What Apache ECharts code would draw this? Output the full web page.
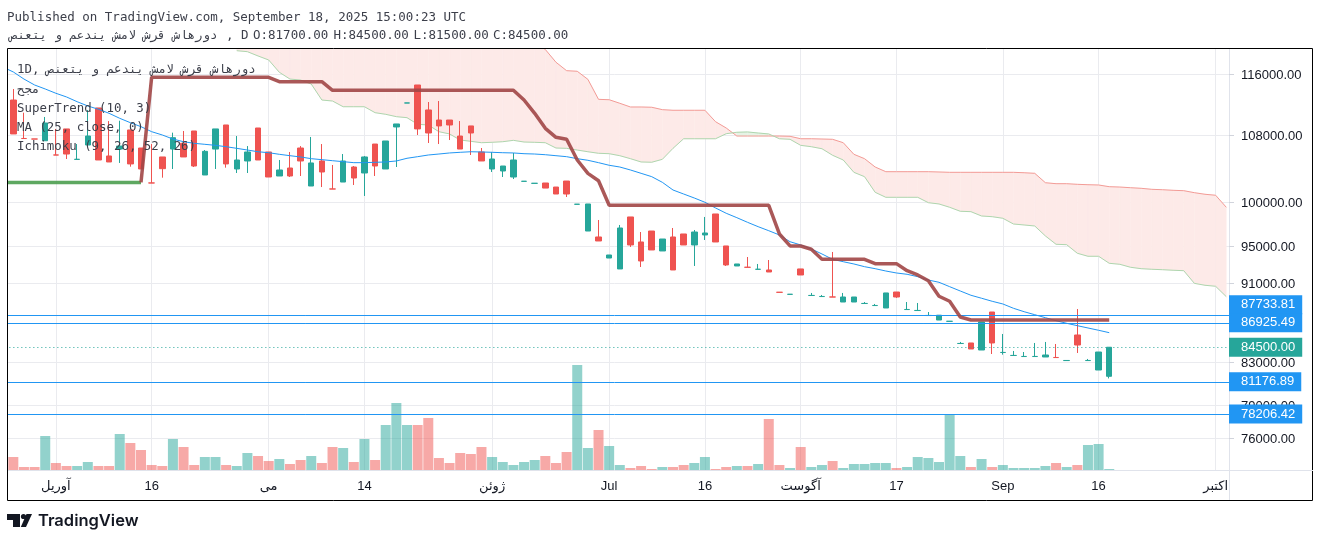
<!DOCTYPE html>
<html>
<head>
<meta charset="utf-8">
<style>
html, body { margin: 0; padding: 0; background: #fff; overflow: hidden; }
/* the canvas starts left of the window so the lead-in bar has room outside the frame */
#chart { position: absolute; left: -10px; top: 0; width: 1330px; height: 541px; }
</style>
<script src="https://cdn.jsdelivr.net/npm/echarts@6/dist/echarts.min.js"></script>
</head>
<body>
<div id="chart"></div>
<script>
// candles, one entry per trading day. First slot is the bar just left of the frame, so it is empty
const opens = [null,112550,107645,107580,107360,105605,108840,105065,106830,111520,105480,106330,108710,106460,102235,105360,106330,107040,108580,103180,106330,109340,103900,104870,108960,105970,103060,104020,106460,101870,104870,101525,102340,104140,103420,106950,103900,109090,112160,114530,111260,109970,109970,107950,109220,105970,103900,103660,102940,102425,102185,102225,101750,102460,99735,96690,96025,93710,92530,98280,95470,96690,94480,96025,96360,95140,96250,98620,95030,92850,92715,92490,92420,90065,89845,92530,89725,89615,89575,89050,89050,88895,88685,88435,90090,88275,88175,87665,87210,87075,84865,84920,84230,88025,83985,83695,83595,83595,83550,83505,83205,85710,83205,82300,81700];
const closes = [null,108210,107635,107570,109590,105595,105720,105075,107950,104990,104750,106700,104510,103900,102225,103940,107740,105360,104260,106050,108840,104510,104990,105970,104990,102940,103780,103060,104870,104630,103540,101515,104870,102820,105360,104260,107330,109470,112170,108840,108330,109220,109340,106330,108330,104870,105110,104260,104990,102435,102195,101630,100930,100930,99745,99770,95580,94040,97030,95140,93390,94590,95800,92420,95140,96580,96470,95470,92960,93065,92705,92500,92205,90055,89855,91885,89735,89625,89565,89570,89570,88905,88695,89990,89570,88285,88185,87675,87700,87085,84875,84330,87010,84920,83995,83705,83605,83605,83745,83495,83215,84720,83215,84035,84500];
const highs = [null,114000,110910,107580,110360,108840,108840,106950,111260,111520,109840,109880,108710,106460,106950,105360,108370,108580,108580,106210,108840,109340,107950,106700,108960,105970,104990,105970,106700,107830,106950,104385,105720,104260,105480,106950,107330,109470,112170,114530,112290,112420,109970,109840,109220,106460,105970,104260,105850,102435,102195,102225,101750,102460,99745,99770,97935,94040,97370,98280,96580,96690,95800,97030,96360,96805,98280,98620,95030,93065,93820,93065,93495,90065,89855,92530,89990,89780,94370,89990,89570,89050,88850,89990,90090,89050,88950,88025,87700,87085,85020,84920,87010,88025,85810,84135,84035,84920,85020,84820,83215,88330,83360,84035,84500];
const lows = [null,108210,107635,107570,107360,105595,105110,105065,106830,104990,104750,104630,104180,103900,102225,102860,103900,105360,104140,103180,103900,104060,103420,103420,104990,102940,103060,102940,103060,101870,101750,101515,102340,101990,100700,103060,103900,104140,112160,108080,107080,106950,107450,106330,105600,104870,103540,102940,102700,102425,102185,101630,100930,100580,99735,96690,95580,93710,92530,94920,92740,94590,94480,92420,95140,92850,95690,95470,92850,92850,92705,92490,92205,90055,89845,91885,89725,89615,89565,89050,89050,88895,88685,88435,89470,88275,88175,87665,87210,87075,84865,84330,84230,83840,83775,83695,83595,83595,83550,83495,83205,83940,83205,82300,81500];
const volumes = [null,13,3,3,34,7,4,4,8,4,4,36,27,20,5,4,31,23,5,13,13,5,4,17,14,9,11,6,10,14,7,23,22,8,31,10,45,67,45,45,52,12,7,17,16,23,13,8,5,8,10,14,7,18,105,22,40,24,5,2,4,1,3,3,5,7,13,1,3,4,4,6,51,5,2,23,3,5,9,2,6,6,7,7,2,3,13,12,8,56,14,3,11,3,5,2,2,2,4,7,3,5,25,26,1];

// MA (25, close, 0)
const maLine = [116950,116270,115320,114530,114000,113435,112950,112330,111776,111350,110830,110190,109630,109125,108495,108080,107575,107240,107040,106915,106790,106620,106420,106210,106000,105880,105685,105515,105360,105150,105030,104905,104785,104665,104665,104710,104750,104870,105200,105395,105600,105720,105850,105930,106000,105970,105930,105880,105850,105760,105720,105635,105515,105395,105150,104955,104665,104350,104140,103780,103380,102980,102305,101400,100930,100465,99970,99310,98700,98200,97675,97180,96725,96250,95500,95140,94700,94150,93570,93310,93065,92775,92560,92310,92100,91960,91705,91350,91110,90650,90195,89750,89440,89125,88850,88405,88055,87750,87445,87140,86880,86640,86410,86180,85940];

// SuperTrend (10, 3), green leg then red leg
const trendUp = [102300,102300,102300,102300,102300,102300,102300,102300,102300,102300,102300,102300,102300,102300];
const trendDown = [null,null,null,null,null,null,null,null,null,null,null,null,null,102300,115560,115560,115560,115560,115560,115560,115560,115560,115560,115560,115560,115560,114970,114970,114970,114970,114970,113830,113830,113830,113830,113830,113830,113830,113830,113830,113830,113830,113830,113830,113830,113830,113830,113830,113830,112550,110830,108920,107790,107540,104990,103380,102500,99620,99620,99620,99620,99620,99620,99620,99620,99620,99620,99620,99620,99620,99620,99620,99620,96360,95030,95030,94665,93570,93570,93570,93570,93570,93100,93100,93100,92345,91885,91275,89645,89125,87515,87210,87210,87210,87210,87210,87210,87210,87210,87210,87210,87210,87210,87210,87210];

// Ichimoku cloud edges (shifted 26 bars forward). The upper edge is off the chart before bar 50
const cloudUpper = [null,null,null,null,null,null,null,null,null,null,null,null,null,null,null,null,null,null,null,null,null,null,122000,122000,122000,122000,122000,122000,122000,122000,122000,122000,122000,122000,122000,122000,122000,122000,122000,122000,122000,122000,122000,122000,122000,122000,122000,122000,122000,122000,120500,119340,117590,116445,116365,115280,112640,112590,112125,111645,111645,111610,111300,111220,111220,111220,111220,109755,108960,107950,107950,107950,107950,107950,107915,107610,107610,107575,107540,107115,105685,105150,104140,103575,103575,103575,103575,103575,103540,103500,103500,103500,103500,103500,103500,103500,103450,103380,102260,102145,102145,102070,102025,101990,101790,101750,101670,101600,101480,101435,101365,101320,101085,100900,100785,99390];
const cloudLower = [null,null,null,null,null,null,null,null,null,null,null,null,null,null,null,null,null,null,null,null,null,null,119175,119040,118450,117900,116230,115320,115190,114660,112550,112420,111680,111680,111680,110910,110700,110400,110270,109430,109340,108495,108210,107450,107290,107115,107165,107240,107410,107200,107165,107115,106460,106420,106210,106000,105810,105760,105515,105150,104750,104715,105075,106420,107610,107610,107610,107610,108240,108420,108460,108330,108210,107610,107540,106790,106620,106370,105565,104990,103500,102980,101130,100545,100545,100545,100545,99920,99770,99390,98930,98885,98390,98310,98130,97480,97370,97255,96140,95215,95170,94230,93900,93900,93140,93030,92710,92560,92495,92450,92390,92345,91000,90795,90690,89605];

// price scale
const priceTicks = [116000,108000,100000,95000,91000,83000,79000,76000];
const levels = [87733.81,86925.49,81176.89,78206.42];
const lastPrice = 84500;

// time scale
const tickIndex = [5,14,25,34,46,57,66,75,84,94,103,114];
const tickLabels = ['آوریل','16','می','14','ژوئن','Jul','16','آگوست','17','Sep','16','اکتبر'];

const nameRev = 'دورهاش قرش لامش یندعم و یتعنص';

const upColor = '#26a69a';
const downColor = '#ef5350';
const levelColor = '#2196f3';
const gridColor = '#eaebef';
const monoFont = '"DejaVu Sans Mono", monospace';
const axisFont = '"Liberation Sans", "DejaVu Sans", sans-serif';

const categories = cloudUpper.map((v, i) => String(i));

function same(a, b) {
	return Math.abs(a - b) < 0.01;
}

function priceLabel(val) {
	const text = val.toFixed(2);
	if (same(val, lastPrice)) return '{last|' + text + '}';
	// this tag sits on top of the next one, so it is pushed up by an empty line
	if (same(val, levels[0])) return '{tag|' + text + '}\n{spacer| }';
	if (levels.some((l) => same(val, l))) return '{tag|' + text + '}';
	return '{plain|' + text + '}';
}

// kumo fill, one quad per bar gap
function renderCloud(params, api) {
	const i = api.value(0);
	if (i + 1 >= cloudUpper.length || cloudUpper[i] == null) return null;
	const twisted = cloudLower[i] > cloudUpper[i] && cloudLower[i + 1] > cloudUpper[i + 1];
	const fill = twisted ? '#e6f3e6' : '#fdeae8';
	return {
		type: 'polygon',
		shape: {
			points: [
				api.coord([i, cloudUpper[i]]),
				api.coord([i + 1, cloudUpper[i + 1]]),
				api.coord([i + 1, cloudLower[i + 1]]),
				api.coord([i, cloudLower[i]])
			]
		},
		style: { fill: fill, stroke: fill, lineWidth: 0.5 }
	};
}

function legendText(str, y) {
	return {
		type: 'text', z: 100, silent: true, x: 17, y: y,
		style: { text: str, font: '12.4px ' + monoFont, fill: '#3c3f4a', textVerticalAlign: 'middle' }
	};
}

function headerText(str, x, y, size) {
	return {
		type: 'text', z: 100, silent: true, x: x, y: y,
		style: { text: str, font: (size || 12.5) + 'px ' + monoFont, fill: '#3c3f4a', textVerticalAlign: 'middle' }
	};
}

const myChart = echarts.init(document.getElementById('chart'), null, { renderer: 'canvas' });

const option = {
	animation: false,
	backgroundColor: '#fff',
	grid: { left: 7.36, top: 49, width: 1234.24, height: 421 },
	xAxis: {
		type: 'category',
		data: categories,
		boundaryGap: true,
		axisLine: { lineStyle: { color: '#e0e3eb' } },
		axisTick: {
			alignWithLabel: true, length: 4, lineStyle: { color: '#d1d4dc' },
			interval: (i) => tickIndex.includes(i)
		},
		axisLabel: {
			interval: (i) => tickIndex.includes(i),
			formatter: (v, i) => tickLabels[tickIndex.indexOf(i)] || '',
			color: '#131722', fontFamily: axisFont, fontSize: 13, margin: 10
		},
		splitLine: {
			show: true, alignWithLabel: true,
			interval: (i) => tickIndex.includes(i),
			lineStyle: { color: gridColor }
		}
	},
	yAxis: [
		{
			type: 'log',
			logBase: 10,
			position: 'right',
			offset: -2.6,
			min: 73290,
			max: 119410,
			axisLine: { show: true, lineStyle: { color: '#e0e3eb' } },
			axisTick: { show: true, length: 5, lineStyle: { color: '#d1d4dc' }, customValues: priceTicks },
			splitLine: { show: true, lineStyle: { color: gridColor } },
			minorSplitLine: { show: false },
			axisLabel: {
				margin: 0,
				hideOverlap: false,
				customValues: priceTicks.concat(levels, [lastPrice]),
				formatter: priceLabel,
				rich: {
					plain: { color: '#131722', fontFamily: axisFont, fontSize: 13, padding: [2, 0, 0, 12] },
					tag: { color: '#fff', backgroundColor: levelColor, fontFamily: axisFont, fontSize: 13, lineHeight: 14, padding: [3, 7, 3, 12] },
					last: { color: '#fff', backgroundColor: upColor, fontFamily: axisFont, fontSize: 13, lineHeight: 14, padding: [3, 7, 3, 12] },
					spacer: { fontSize: 13, lineHeight: 20 }
				}
			}
		},
		{
			// volume pane, overlaid on the price pane
			type: 'value',
			show: false,
			min: 0,
			max: 421,
			splitLine: { show: false }
		}
	],
	series: [
		{
			name: 'cloud',
			type: 'custom',
			z: 1,
			clip: true,
			silent: true,
			renderItem: renderCloud,
			encode: { x: 0, y: 1 },
			data: cloudUpper.map((v, i) => [i, v == null ? 100000 : v])
		},
		{
			name: 'cloudUpper',
			type: 'line',
			z: 2,
			data: cloudUpper,
			showSymbol: false,
			clip: true,
			lineStyle: { color: '#f29b96', width: 1 }
		},
		{
			name: 'cloudLower',
			type: 'line',
			z: 2,
			data: cloudLower,
			showSymbol: false,
			clip: true,
			lineStyle: { color: '#aed6ae', width: 1 }
		},
		{
			name: 'volume',
			type: 'bar',
			yAxisIndex: 1,
			z: 2,
			barWidth: 10,
			data: volumes.map((v, i) => ({
				value: v,
				itemStyle: { color: closes[i] >= opens[i] ? 'rgba(38,166,154,0.5)' : 'rgba(239,83,80,0.5)' }
			}))
		},
		{
			name: 'candles',
			type: 'candlestick',
			z: 3,
			barWidth: 6,
			itemStyle: { color: upColor, color0: downColor, borderColor: upColor, borderColor0: downColor, borderWidth: 1 },
			data: opens.map((o, i) => [o, closes[i], lows[i], highs[i]]),
			markLine: {
				silent: true, symbol: 'none', animation: false,
				label: { show: false },
				lineStyle: { color: upColor, type: [1, 3], width: 1 },
				data: [{ yAxis: lastPrice }]
			}
		},
		{
			name: 'MA',
			type: 'line',
			z: 4,
			data: maLine,
			showSymbol: false,
			lineStyle: { color: levelColor, width: 1 }
		},
		{
			name: 'trendUp',
			type: 'line',
			z: 5,
			data: trendUp,
			showSymbol: false,
			lineStyle: { color: '#4c9f50', width: 3.5, opacity: 0.9 }
		},
		{
			name: 'trendDown',
			type: 'line',
			z: 5,
			data: trendDown,
			showSymbol: false,
			lineStyle: { color: '#a14646', width: 3.5, opacity: 0.9 }
		},
		{
			name: 'levels',
			type: 'line',
			z: 6,
			data: [],
			markLine: {
				silent: true, symbol: 'none', animation: false,
				label: { show: false },
				lineStyle: { color: levelColor, type: 'solid', width: 1 },
				data: levels.map((l) => ({ yAxis: l }))
			}
		}
	],
	graphic: [{
		type: 'group',
		x: 10,
		children: [
			// hides the lead-in bar left of the frame
			{ type: 'rect', z: 80, silent: true, shape: { x: -10, y: 40, width: 17, height: 470 }, style: { fill: '#fff' } },
			{ type: 'rect', z: 90, silent: true, shape: { x: 7.5, y: 48.5, width: 1305, height: 452 }, style: { fill: 'none', stroke: '#000', lineWidth: 1 } },
			{ type: 'line', z: 90, silent: true, shape: { x1: 1229, y1: 470.5, x2: 1313, y2: 470.5 }, style: { stroke: '#e0e3eb', lineWidth: 1 } },
			{ type: 'line', z: 90, silent: true, shape: { x1: 1229.5, y1: 470, x2: 1229.5, y2: 500 }, style: { stroke: '#e0e3eb', lineWidth: 1 } },
			headerText('Published on TradingView.com, September 18, 2025 15:00:23 UTC', 7, 17.5),
			headerText(nameRev, 10, 35.5, 12.3),
			headerText(', D', 226, 35.5),
			headerText('O:81700.00', 253, 35.5),
			headerText('H:84500.00', 333.5, 35.5),
			headerText('L:81500.00', 413.5, 35.5),
			headerText('C:84500.00', 493, 35.5),
			legendText('\u202B' + nameRev + ' ,1D\u202C', 70),
			legendText('مجح', 90),
			legendText('SuperTrend (10, 3)', 109),
			legendText('MA (25, close, 0)', 128),
			legendText('Ichimoku (9, 26, 52, 26)', 147),
			// TradingView mark
			{ type: 'polygon', z: 100, silent: true, shape: { points: [[7, 514], [20, 514], [20, 527], [13, 527], [13, 520], [7, 520]] }, style: { fill: '#131722' } },
			{ type: 'circle', z: 100, silent: true, shape: { cx: 23.5, cy: 516.5, r: 2.6 }, style: { fill: '#131722' } },
			{ type: 'polygon', z: 100, silent: true, shape: { points: [[26.5, 514], [32, 514], [26, 527], [20.8, 527]] }, style: { fill: '#131722' } },
			{
				type: 'text', z: 100, silent: true, x: 38, y: 521,
				style: { text: 'TradingView', font: '600 16.5px Inter, Roboto, sans-serif', fill: '#131722', textVerticalAlign: 'middle' }
			}
		]
	}]
};

myChart.setOption(option);
</script>
</body>
</html>
